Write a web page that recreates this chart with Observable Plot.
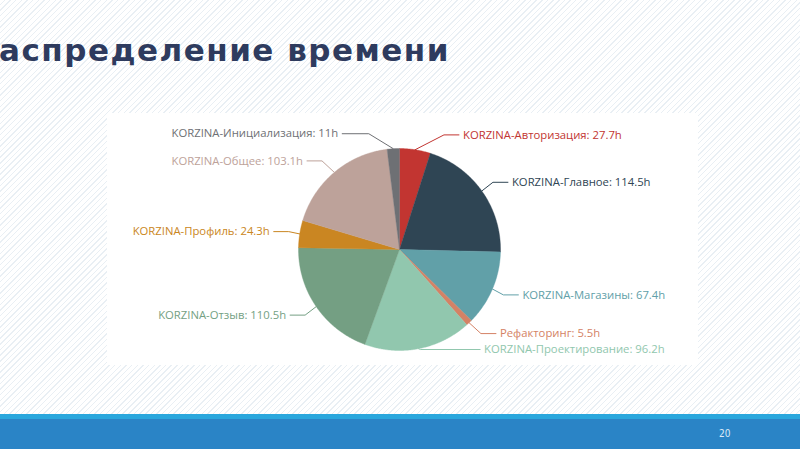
<!DOCTYPE html>
<html><head><meta charset="utf-8">
<script src="https://cdn.jsdelivr.net/npm/d3@7"></script>
<script src="https://cdn.jsdelivr.net/npm/@observablehq/plot@0.6"></script>
<style>
html,body{margin:0;padding:0;width:800px;height:449px;overflow:hidden;}
body{position:relative;background:repeating-linear-gradient(135deg,#ffffff 0px,#ffffff 3px,#e9eff4 3px,#e9eff4 4px);}
#title{position:absolute;left:-1px;top:35px;font-family:"DejaVu Sans",sans-serif;font-weight:bold;font-size:31px;letter-spacing:1.5px;color:#2e3b5e;white-space:nowrap;line-height:1;}
#panel{position:absolute;left:107px;top:113px;width:591px;height:252px;background:#fff;}
#strip{position:absolute;left:0;top:414px;width:800px;height:5px;background:#2aa7dd;}
#footer{position:absolute;left:0;top:419px;width:800px;height:30px;background:#2a84c6;}
#page{position:absolute;left:719px;top:428px;font-family:"DejaVu Sans Condensed","DejaVu Sans",sans-serif;font-size:10px;color:#dbe9f6;}
</style></head>
<body>
<div id="title">аспределение времени</div>
<div id="panel"></div>
<div id="strip"></div>
<div id="footer"></div>
<div id="page">20</div>
<script>
const categories = ["KORZINA-Авторизация","KORZINA-Главное","KORZINA-Магазины","Рефакторинг","KORZINA-Проектирование","KORZINA-Отзыв","KORZINA-Профиль","KORZINA-Общее","KORZINA-Инициализация"];
const hours = [27.7,114.5,67.4,5.5,96.2,110.5,24.3,103.1,11];
const colors = ["#c23531","#2f4554","#61a0a8","#d48265","#91c7ae","#749f83","#ca8622","#bda29a","#6e7074"];
const unit = "h";

// layout constants
const W = 591, H = 252, cx = 292, cy = 136, r = 101, len1 = 15, len2 = 15, gap = 4, lh = 14, maxSurf = 55 * Math.PI / 180;
const R2 = r + len1 + len2;

const arcs = d3.pie().sort(null).value(d => d)(hours);
const pt = (a, rad) => [cx + rad * Math.sin(a), cy - rad * Math.cos(a)];

// slice polygons
const slicePts = [];
arcs.forEach((a, i) => {
  const name = categories[i];
  slicePts.push({name, x: cx, y: cy});
  const n = Math.max(2, Math.ceil((a.endAngle - a.startAngle) / (Math.PI / 360)));
  for (let k = 0; k <= n; k++) {
    const t = a.startAngle + (a.endAngle - a.startAngle) * k / n;
    const [x, y] = pt(t, r);
    slicePts.push({name, x, y});
  }
  slicePts.push({name, x: cx, y: cy});
});

// labels (ECharts-like outer layout)
const labels = arcs.map((a, i) => {
  const mid = (a.startAngle + a.endAngle) / 2;
  const dir = Math.sin(mid) < 0 ? -1 : 1;
  return {name: categories[i], label: `${categories[i]}: ${hours[i]}${unit}`, mid, dir, y: pt(mid, r + len1)[1]};
});
for (const side of [-1, 1]) {
  const list = labels.filter(l => l.dir === side).sort((a, b) => a.y - b.y);
  for (let i = 1; i < list.length; i++) if (list[i].y < list[i - 1].y + lh) list[i].y = list[i - 1].y + lh;
  const bottom = H - 5 - lh / 2 - 4;
  if (list.length && list[list.length - 1].y > bottom) {
    list[list.length - 1].y = bottom;
    for (let i = list.length - 2; i >= 0; i--) if (list[i].y > list[i + 1].y - lh) list[i].y = list[i + 1].y - lh; else break;
  }
  for (const l of list) {
    const dy = Math.abs(l.y - cy);
    l.x = cx + side * Math.sqrt(Math.max(0, R2 * R2 - dy * dy));
  }
}
const linePts = [];
labels.forEach(l => {
  const p0 = pt(l.mid, r);
  const endX = l.x - l.dir * gap;
  let ex = endX - l.dir * len2;
  const nx = Math.sin(l.mid), ny = -Math.cos(l.mid);
  const vx = ex - p0[0], vy = l.y - p0[1];
  const vl = Math.hypot(vx, vy);
  if (vl > 0) {
    const ang = Math.acos(Math.max(-1, Math.min(1, (vx * nx + vy * ny) / vl)));
    if (ang > maxSurf) {
      const s = Math.sign(nx * vy - ny * vx) || 1;
      const ca = Math.cos(maxSurf), sa = Math.sin(maxSurf) * s;
      const dx = nx * ca - ny * sa, dyy = nx * sa + ny * ca;
      const t = (l.y - p0[1]) / dyy;
      if (t > 0 && isFinite(t)) {
        const cand = p0[0] + t * dx;
        if ((endX - cand) * l.dir > 0) ex = cand;
      }
    }
  }
  linePts.push({name: l.name, x: p0[0], y: p0[1]});
  linePts.push({name: l.name, x: ex, y: l.y});
  linePts.push({name: l.name, x: endX, y: l.y});
});

const font = {fontSize: 11.3, fontFamily: "Open Sans"};
const chart = Plot.plot({
  width: W, height: H, margin: 0,
  x: {domain: [0, W], range: [0, W], axis: null},
  y: {domain: [0, H], range: [0, H], axis: null},
  color: {domain: categories, range: colors},
  style: {background: "#fff", overflow: "visible"},
  marks: [
    Plot.line(slicePts, {x: "x", y: "y", z: "name", fill: "name", stroke: "name", strokeWidth: 0.4, curve: "linear"}),
    Plot.line(linePts, {x: "x", y: "y", z: "name", stroke: "name", strokeWidth: 1, curve: "linear"}),
    Plot.text(labels.filter(l => l.dir < 0), {x: "x", y: "y", text: "label", fill: "name", textAnchor: "end", ...font}),
    Plot.text(labels.filter(l => l.dir > 0), {x: "x", y: "y", text: "label", fill: "name", textAnchor: "start", ...font})
  ]
});
document.getElementById("panel").appendChild(chart);
</script>
</body></html>
